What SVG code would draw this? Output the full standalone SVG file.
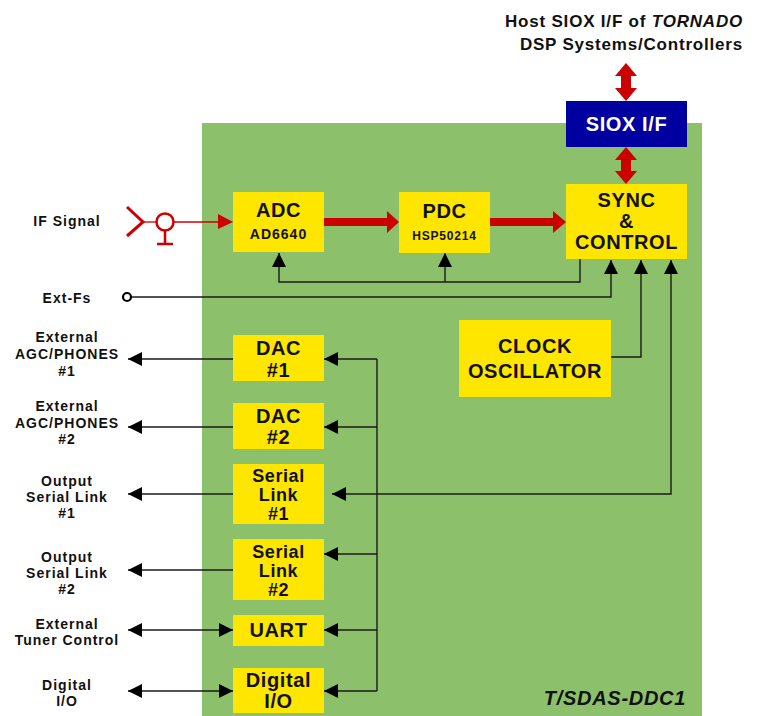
<svg xmlns="http://www.w3.org/2000/svg" width="760" height="716" viewBox="0 0 760 716">
<style>
text{font-family:"Liberation Sans",Arial,sans-serif;font-weight:bold;fill:#111;text-anchor:middle}
.box{fill:#FFE600}
.lbl{font-size:14px;letter-spacing:1px}
.b20{font-size:20px;letter-spacing:0.6px}
.b18{font-size:18px;letter-spacing:0.6px}
.ln{fill:none;stroke:#1a1a1a;stroke-width:1.4}
.red{fill:#CC0000}
.rs{fill:none;stroke:#CC0000}
</style>
<defs>
<marker id="ah" markerUnits="userSpaceOnUse" markerWidth="14" markerHeight="14" refX="14" refY="7" orient="auto-start-reverse" viewBox="0 0 14 14">
<path d="M0,0 L14,7 L0,14 z" fill="#000"/>
</marker>
</defs>
<rect id="board" x="202" y="123" width="500" height="593" fill="#8DC06A"/>

<g id="connectors">
<path class="ln" d="M580,259 V282 H279 V253" marker-end="url(#ah)"/>
<path class="ln" d="M445,282 V253" marker-end="url(#ah)"/>
<path class="ln" d="M131,297 H611 V260" marker-end="url(#ah)"/>
<path class="ln" d="M611,357 H641 V260" marker-end="url(#ah)"/>
<path class="ln" d="M332,494 H671 V260" marker-start="url(#ah)" marker-end="url(#ah)"/>
<path class="ln" d="M377,359 V691"/>
<path class="ln" d="M377,359 H324" marker-end="url(#ah)"/>
<path class="ln" d="M377,427 H324" marker-end="url(#ah)"/>
<path class="ln" d="M377,554 H324" marker-end="url(#ah)"/>
<path class="ln" d="M377,630 H324" marker-end="url(#ah)"/>
<path class="ln" d="M377,691 H324" marker-end="url(#ah)"/>
<path class="ln" d="M233,359 H128" marker-end="url(#ah)"/>
<path class="ln" d="M233,427 H128" marker-end="url(#ah)"/>
<path class="ln" d="M233,494 H128" marker-end="url(#ah)"/>
<path class="ln" d="M233,570 H128" marker-end="url(#ah)"/>
<path class="ln" d="M128,630 H233" marker-start="url(#ah)" marker-end="url(#ah)"/>
<path class="ln" d="M128,691 H233" marker-start="url(#ah)" marker-end="url(#ah)"/>
<circle cx="127" cy="297" r="4" fill="#fff" stroke="#000" stroke-width="2.2"/>
<rect class="red" x="324" y="218" width="64" height="8"/>
<polygon class="red" points="387,211 399,222 387,233"/>
<rect class="red" x="490" y="218" width="64" height="8"/>
<polygon class="red" points="553,211 566,222 553,233"/>
<polygon class="red" points="626,63 637,76 631,76 631,88 637,88 626,101 615,88 621,88 621,76 615,76"/>
<polygon class="red" points="626,147 637,160 631,160 631,171 637,171 626,184 615,171 621,171 621,160 615,160"/>
</g>

<g id="if-antenna">
<polyline class="rs" stroke-width="3" points="127,207 143,222 127,236"/>
<line class="rs" stroke-width="1.3" x1="143" y1="222" x2="156" y2="222"/>
<circle class="rs" stroke-width="2.5" cx="165" cy="222" r="8.5"/>
<line class="rs" stroke-width="2.5" x1="165" y1="230.5" x2="165" y2="244"/>
<line class="rs" stroke-width="2.5" x1="157" y1="244" x2="173" y2="244"/>
<line class="rs" stroke-width="1.3" x1="173.5" y1="222" x2="219" y2="222"/>
<polygon class="red" points="218,214 233,222 218,229"/>
</g>

<g id="host-label">
<text x="743" y="27" style="font-size:17px;letter-spacing:0.8px;text-anchor:end">Host SIOX I/F of <tspan font-style="italic">TORNADO</tspan></text>
<text x="743" y="50" style="font-size:17px;letter-spacing:0.8px;text-anchor:end">DSP Systems/Controllers</text>
</g>

<g id="siox">
<rect x="566" y="101" width="121" height="46" fill="#0000A0"/>
<text class="b20" x="626.5" y="131" style="fill:#fff">SIOX I/F</text>
</g>
<g id="sync">
<rect class="box" x="566" y="184" width="121" height="75"/>
<text class="b20" x="626.5" y="207">SYNC</text>
<text class="b20" x="626.5" y="228">&amp;</text>
<text class="b20" x="626.5" y="249">CONTROL</text>
</g>
<g id="adc">
<rect class="box" x="233" y="192" width="91" height="60"/>
<text class="b20" x="278.5" y="217">ADC</text>
<text x="278.5" y="239" style="font-size:14px;letter-spacing:1px">AD6640</text>
</g>
<g id="pdc">
<rect class="box" x="399" y="192" width="91" height="61"/>
<text class="b20" x="444.5" y="218">PDC</text>
<text x="444.5" y="240" style="font-size:12px;letter-spacing:0.8px">HSP50214</text>
</g>
<g id="clock">
<rect class="box" x="459" y="320" width="152" height="77"/>
<text class="b20" x="535" y="353">CLOCK</text>
<text class="b20" x="535" y="378">OSCILLATOR</text>
</g>
<g id="dac1">
<rect class="box" x="233" y="335" width="91" height="46"/>
<text class="b20" x="278.5" y="355">DAC</text>
<text class="b20" x="278.5" y="377">#1</text>
</g>
<g id="dac2">
<rect class="box" x="233" y="403" width="91" height="46"/>
<text class="b20" x="278.5" y="423">DAC</text>
<text class="b20" x="278.5" y="444">#2</text>
</g>
<g id="serial1">
<rect class="box" x="233" y="464" width="91" height="60"/>
<text class="b18" x="278.5" y="482">Serial</text>
<text class="b18" x="278.5" y="501">Link</text>
<text class="b18" x="278.5" y="520">#1</text>
</g>
<g id="serial2">
<rect class="box" x="233" y="539" width="91" height="61"/>
<text class="b18" x="278.5" y="558">Serial</text>
<text class="b18" x="278.5" y="577">Link</text>
<text class="b18" x="278.5" y="596">#2</text>
</g>
<g id="uart">
<rect class="box" x="233" y="615" width="91" height="31"/>
<text class="b20" x="278.5" y="637">UART</text>
</g>
<g id="dio">
<rect class="box" x="233" y="668" width="91" height="45"/>
<text class="b20" x="278.5" y="687">Digital</text>
<text class="b20" x="278.5" y="708">I/O</text>
</g>

<g id="labels">
<text class="lbl" x="67" y="226">IF Signal</text>
<text class="lbl" x="67" y="303">Ext-Fs</text>
<text class="lbl" x="67" y="342">External</text>
<text class="lbl" x="67" y="359">AGC/PHONES</text>
<text class="lbl" x="67" y="376">#1</text>
<text class="lbl" x="67" y="411">External</text>
<text class="lbl" x="67" y="428">AGC/PHONES</text>
<text class="lbl" x="67" y="444">#2</text>
<text class="lbl" x="67" y="486">Output</text>
<text class="lbl" x="67" y="502">Serial Link</text>
<text class="lbl" x="67" y="518">#1</text>
<text class="lbl" x="67" y="562">Output</text>
<text class="lbl" x="67" y="578">Serial Link</text>
<text class="lbl" x="67" y="594">#2</text>
<text class="lbl" x="67" y="629">External</text>
<text class="lbl" x="67" y="645">Tuner Control</text>
<text class="lbl" x="67" y="690">Digital</text>
<text class="lbl" x="67" y="706">I/O</text>
<text x="686" y="705" style="font-size:20px;font-style:italic;letter-spacing:0.7px;text-anchor:end">T/SDAS-DDC1</text>
</g>
</svg>
